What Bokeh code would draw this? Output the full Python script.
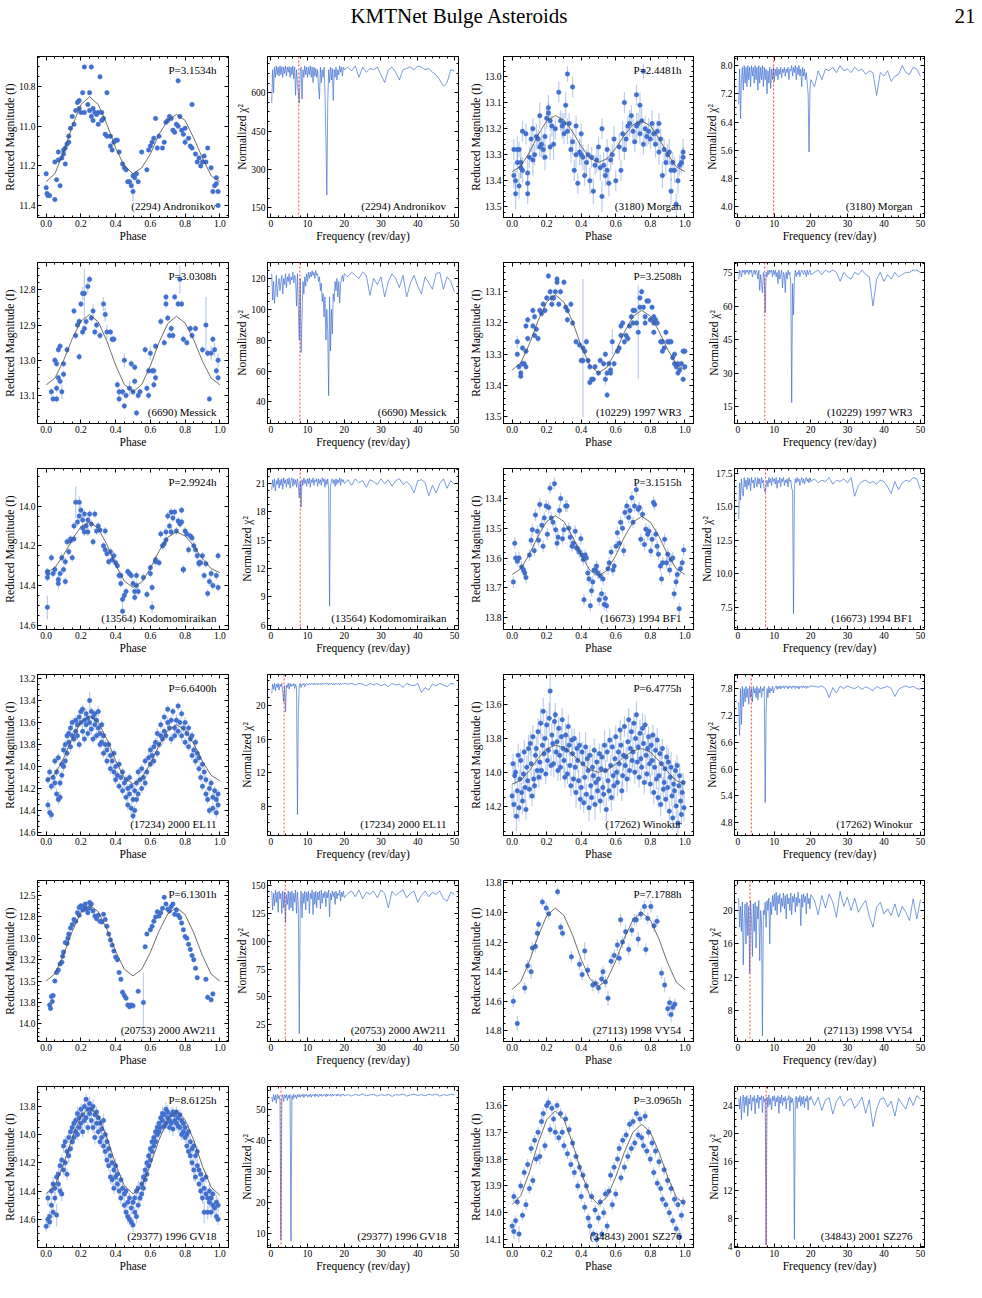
import numpy as np
from bokeh.plotting import figure
from bokeh.models import (Range1d, LinearAxis, FixedTicker, Label, Span, PrintfTickFormatter,
                          CustomJSTickFormatter)
from bokeh.layouts import gridplot, column
from bokeh.embed import file_html
from bokeh.resources import INLINE

SERIF = "Liberation Serif"
BLUE = "#3f6fcf"

# ---------------- light curves: (phase, reduced magnitude, error in 0.01 mag) ----------------
LC_2294 = [(0.00,11.24,1),(0.00,11.31,1),(0.005,11.34,1),(0.01,11.35,1),(0.02,11.35,1),(0.05,11.37,1),(0.06,11.27,1),(0.05,11.18,1),(0.07,11.17,1),(0.08,11.30,1),
 (0.07,11.13,1),(0.09,11.16,1),(0.10,11.12,1),(0.11,11.11,1),(0.10,11.14,1),(0.11,11.19,1),(0.12,11.09,1),(0.13,11.08,1),(0.13,11.05,1),(0.14,11.01,1),
 (0.15,10.95,1),(0.16,10.99,1),(0.17,10.92,1),(0.18,10.88,1),(0.19,10.87,1),(0.19,10.91,1),(0.20,10.93,1),(0.21,10.83,1),(0.22,10.93,1),(0.22,10.70,1),
 (0.24,10.89,1),(0.25,10.83,1),(0.26,10.70,1),(0.25,10.92,1),(0.26,10.95,2),(0.27,10.91,1),(0.27,10.97,1),(0.28,10.93,1),(0.29,10.94,1),(0.30,10.93,1),
 (0.30,10.99,1),(0.31,10.75,1),(0.32,10.93,1),(0.32,10.97,1),(0.33,10.96,1),(0.34,11.04,1),(0.35,10.83,1),(0.35,11.05,1),(0.37,11.05,1),(0.37,11.10,2),
 (0.38,11.12,1),(0.39,11.08,1),(0.40,11.07,1),(0.41,11.07,1),(0.42,11.13,1),(0.44,11.19,1),(0.45,11.21,1),(0.46,11.22,1),(0.47,11.28,1),(0.48,11.28,1),
 (0.49,11.30,1),(0.50,11.25,1),(0.50,11.33,5),(0.51,11.26,1),(0.52,11.24,1),(0.53,11.28,1),(0.55,11.13,1),(0.58,11.22,1),(0.59,11.12,1),(0.60,11.10,1),
 (0.61,11.08,1),(0.62,11.06,1),(0.63,10.96,1),(0.64,11.11,1),(0.65,11.05,1),(0.67,11.11,1),(0.68,11.08,1),(0.69,10.98,1),(0.70,10.97,1),(0.71,10.95,1),
 (0.72,10.96,1),(0.73,11.02,1),(0.74,11.03,1),(0.75,10.99,1),(0.76,10.77,1),(0.76,11.00,1),(0.77,10.95,1),(0.78,11.02,1),(0.79,11.04,1),(0.80,11.01,1),
 (0.80,11.08,2),(0.82,11.06,1),(0.83,11.10,1),(0.84,11.11,1),(0.84,10.89,1),(0.86,11.14,1),(0.87,11.18,1),(0.88,11.16,1),(0.89,11.20,1),(0.90,11.18,1),
 (0.91,11.15,1),(0.92,11.18,1),(0.93,11.11,1),(0.95,11.21,1),(0.96,11.33,1),(0.97,11.30,1),(0.98,11.29,1),(0.98,11.26,1),(0.99,11.33,1),(0.99,11.40,1)]

LC_3180 = [(0.01,13.28,4),(0.01,13.38,5),(0.02,13.45,6),(0.02,13.40,4),(0.03,13.28,5),(0.03,13.33,4),(0.04,13.42,5),(0.04,13.28,3),(0.05,13.35,4),(0.05,13.33,6),
 (0.06,13.21,4),(0.06,13.36,5),(0.08,13.22,4),(0.09,13.37,5),(0.09,13.45,4),(0.09,13.41,3),(0.10,13.31,4),(0.11,13.24,5),(0.12,13.20,4),(0.12,13.32,6),
 (0.13,13.30,4),(0.14,13.23,5),(0.15,13.24,4),(0.16,13.15,5),(0.16,13.27,4),(0.17,13.26,5),(0.18,13.28,4),(0.19,13.23,4),(0.19,13.31,5),(0.20,13.16,4),
 (0.21,13.12,5),(0.21,13.14,4),(0.22,13.17,4),(0.22,13.27,5),(0.23,13.19,4),(0.24,13.26,6),(0.25,13.20,4),(0.27,13.06,4),(0.28,13.17,4),(0.29,13.19,5),
 (0.30,13.18,4),(0.30,13.22,4),(0.31,13.11,5),(0.32,12.99,3),(0.32,13.21,5),(0.33,13.18,4),(0.34,13.28,5),(0.35,13.04,4),(0.35,13.25,5),(0.36,13.36,4),
 (0.37,13.19,4),(0.37,13.30,5),(0.38,13.41,4),(0.39,13.29,5),(0.40,13.22,4),(0.40,13.30,4),(0.41,13.31,5),(0.42,13.38,4),(0.43,13.33,5),(0.44,13.30,4),
 (0.45,13.40,5),(0.46,13.31,4),(0.47,13.44,5),(0.48,13.34,4),(0.49,13.32,5),(0.50,13.27,4),(0.51,13.35,5),(0.52,13.46,6),(0.52,13.20,4),(0.53,13.34,5),
 (0.54,13.38,4),(0.55,13.36,5),(0.55,13.28,4),(0.56,13.41,5),(0.57,13.32,4),(0.58,13.30,4),(0.59,13.24,5),(0.60,13.40,4),(0.62,13.27,5),(0.63,13.36,4),
 (0.64,13.22,5),(0.65,13.28,4),(0.65,13.10,4),(0.66,13.24,5),(0.67,13.19,4),(0.68,13.18,5),(0.69,13.15,4),(0.70,13.21,5),(0.71,13.25,4),(0.72,13.07,4),
 (0.72,13.19,5),(0.73,13.18,4),(0.74,13.11,5),(0.74,13.22,4),(0.75,13.17,5),(0.76,12.98,3),(0.76,13.26,4),(0.77,13.20,5),(0.78,13.23,4),(0.79,13.21,5),
 (0.80,13.24,4),(0.81,13.18,5),(0.82,13.22,4),(0.83,13.26,5),(0.84,13.21,4),(0.85,13.18,4),(0.85,13.29,5),(0.86,13.24,4),(0.87,13.38,5),(0.88,13.28,4),
 (0.89,13.33,5),(0.90,13.30,4),(0.91,13.29,5),(0.92,13.36,4),(0.92,13.44,5),(0.93,13.33,4),(0.94,13.36,5),(0.95,13.49,4),(0.96,13.40,5),(0.97,13.34,4),
 (0.98,13.33,4),(0.99,13.29,5),(0.99,13.31,4)]

LC_6690 = [(0.03,13.09,1),(0.04,13.11,1),(0.05,13.00,1),(0.06,13.01,1),(0.06,13.08,1),(0.06,13.11,1),(0.07,13.05,1),(0.07,12.97,1),(0.08,12.96,1),(0.08,13.06,1),
 (0.09,13.09,2),(0.10,13.04,1),(0.10,13.01,1),(0.12,12.97,1),(0.16,12.86,1),(0.17,12.93,1),(0.18,12.90,1),(0.19,12.89,1),(0.19,12.99,1),(0.20,12.84,1),
 (0.21,12.81,2),(0.21,12.92,1),(0.22,12.91,1),(0.22,12.81,7),(0.23,12.89,1),(0.24,12.79,2),(0.25,12.77,1),(0.26,12.88,1),(0.27,12.86,2),(0.28,12.92,1),
 (0.29,12.90,1),(0.31,12.93,1),(0.33,12.84,2),(0.34,12.87,2),(0.35,12.92,2),(0.37,12.92,1),(0.38,12.94,1),(0.39,12.94,1),(0.41,13.07,1),(0.42,13.09,1),
 (0.42,13.11,1),(0.44,13.09,1),(0.45,13.13,1),(0.45,13.00,2),(0.46,13.10,1),(0.48,13.08,2),(0.49,13.01,1),(0.50,13.09,1),(0.51,13.06,1),(0.51,13.02,1),
 (0.52,13.15,1),(0.53,13.10,1),(0.54,13.09,1),(0.57,12.97,1),(0.58,13.08,1),(0.59,13.03,1),(0.59,13.10,1),(0.60,12.98,2),(0.61,13.03,1),(0.62,13.03,1),
 (0.62,13.07,1),(0.63,13.05,1),(0.63,12.96,1),(0.66,12.89,1),(0.68,12.95,1),(0.69,12.84,1),(0.69,12.82,1),(0.70,12.88,1),(0.71,12.93,1),(0.72,12.91,1),
 (0.73,12.93,1),(0.74,12.82,1),(0.76,12.84,1),(0.77,12.77,4),(0.78,12.84,1),(0.79,12.94,1),(0.81,12.95,1),(0.83,12.91,1),(0.84,12.93,1),(0.86,12.91,1),
 (0.90,12.97,1),(0.92,12.90,8),(0.93,12.98,1),(0.94,13.11,1),(0.95,12.98,2),(0.96,12.94,1),(0.97,12.97,2),(0.98,13.03,1),(0.99,13.00,2),(0.99,13.05,1)]

LC_10229 = [(0.03,13.26,2),(0.03,13.30,1),(0.04,13.34,1),(0.05,13.36,1),(0.05,13.37,1),(0.06,13.33,1),(0.06,13.28,1),(0.07,13.33,1),(0.08,13.34,1),(0.08,13.29,1),
 (0.08,13.21,1),(0.09,13.19,1),(0.09,13.25,1),(0.12,13.16,1),(0.12,13.21,1),(0.13,13.24,1),(0.13,13.18,1),(0.14,13.22,1),(0.15,13.25,1),(0.16,13.16,1),
 (0.17,13.17,1),(0.18,13.14,1),(0.19,13.16,1),(0.20,13.12,1),(0.21,13.05,1),(0.22,13.10,1),(0.23,13.14,1),(0.23,13.12,1),(0.24,13.12,1),(0.25,13.10,1),
 (0.26,13.07,1),(0.26,13.06,1),(0.27,13.14,1),(0.28,13.10,1),(0.30,13.07,1),(0.31,13.15,1),(0.32,13.16,1),(0.32,13.19,1),(0.34,13.14,1),(0.35,13.20,1),
 (0.37,13.26,1),(0.39,13.27,1),(0.40,13.32,1),(0.41,13.32,1),(0.41,13.28,22),(0.42,13.29,1),(0.43,13.26,1),(0.44,13.32,1),(0.45,13.34,1),(0.45,13.39,1),
 (0.46,13.38,1),(0.47,13.38,1),(0.48,13.34,1),(0.50,13.36,1),(0.51,13.32,1),(0.53,13.33,1),(0.54,13.38,2),(0.54,13.30,1),(0.55,13.43,1),(0.55,13.36,1),
 (0.56,13.33,1),(0.57,13.36,1),(0.57,13.35,1),(0.58,13.26,4),(0.59,13.33,1),(0.61,13.29,1),(0.62,13.28,1),(0.63,13.24,1),(0.63,13.21,1),(0.64,13.20,1),
 (0.65,13.26,1),(0.66,13.24,1),(0.67,13.25,1),(0.68,13.21,1),(0.69,13.18,1),(0.70,13.20,1),(0.70,13.16,1),(0.71,13.16,1),(0.72,13.20,1),(0.73,13.23,15),
 (0.74,13.12,1),(0.74,13.15,1),(0.75,13.10,1),(0.76,13.15,1),(0.77,13.18,1),(0.77,13.20,1),(0.78,13.13,1),(0.79,13.13,1),(0.80,13.19,1),(0.81,13.15,1),
 (0.82,13.18,1),(0.82,13.20,1),(0.82,13.23,1),(0.83,13.19,1),(0.84,13.20,1),(0.86,13.26,1),(0.87,13.29,1),(0.87,13.26,1),(0.88,13.28,1),(0.89,13.23,1),
 (0.90,13.26,1),(0.91,13.26,1),(0.92,13.26,1),(0.93,13.31,1),(0.94,13.33,1),(0.94,13.30,1),(0.95,13.34,1),(0.96,13.36,1),(0.96,13.33,1),(0.97,13.35,1),
 (0.98,13.33,1),(0.99,13.38,1),(0.99,13.29,1),(1.00,13.34,1),(1.00,13.29,1)]

LC_13564 = [(0.007,14.33,2),(0.007,14.36,2),(0.007,14.51,6),(0.01,14.34,2),(0.03,14.26,2),(0.04,14.34,2),(0.05,14.32,2),(0.07,14.37,2),(0.07,14.39,3),(0.08,14.34,2),
 (0.09,14.26,2),(0.10,14.32,2),(0.11,14.28,2),(0.11,14.38,2),(0.12,14.18,2),(0.13,14.23,2),(0.14,14.175,2),(0.14,14.165,2),(0.15,14.26,2),(0.16,14.10,2),
 (0.16,14.165,2),(0.17,13.98,8),(0.18,14.08,2),(0.19,13.98,3),(0.19,14.05,2),(0.20,14.02,4),(0.21,14.11,2),(0.21,14.07,2),(0.22,14.13,2),(0.22,14.04,2),
 (0.23,14.10,2),(0.24,14.07,2),(0.24,14.13,2),(0.25,14.04,2),(0.26,14.09,2),(0.27,14.18,2),(0.28,14.04,2),(0.29,14.125,2),(0.30,14.10,2),(0.31,14.12,2),
 (0.33,14.20,2),(0.34,14.125,2),(0.34,14.22,2),(0.35,14.24,2),(0.36,14.28,2),(0.37,14.23,2),(0.38,14.27,2),(0.39,14.25,2),(0.40,14.285,2),(0.41,14.30,2),
 (0.42,14.35,2),(0.43,14.35,2),(0.43,14.39,2),(0.44,14.47,3),(0.44,14.53,3),(0.45,14.45,2),(0.46,14.43,2),(0.47,14.33,2),(0.48,14.34,2),(0.49,14.35,2),
 (0.50,14.39,2),(0.51,14.43,2),(0.51,14.46,2),(0.52,14.35,2),(0.52,14.40,2),(0.53,14.43,2),(0.56,14.36,2),(0.58,14.445,2),(0.60,14.34,2),(0.60,14.31,2),
 (0.61,14.51,3),(0.61,14.41,2),(0.63,14.28,2),(0.63,14.27,2),(0.65,14.285,2),(0.66,14.14,2),(0.67,14.20,2),(0.68,14.19,2),(0.69,14.17,2),(0.69,14.13,2),
 (0.70,14.05,2),(0.71,14.10,2),(0.72,14.13,2),(0.72,14.03,2),(0.73,14.06,2),(0.74,14.03,2),(0.75,14.125,2),(0.76,14.075,2),(0.77,14.09,2),(0.78,14.02,2),
 (0.78,14.08,2),(0.79,14.32,2),(0.79,14.32,2),(0.80,14.125,2),(0.81,14.14,2),(0.82,14.22,2),(0.83,14.15,2),(0.84,14.16,2),(0.85,14.20,2),(0.86,14.22,2),
 (0.87,14.25,2),(0.88,14.285,2),(0.88,14.29,2),(0.89,14.285,2),(0.90,14.25,2),(0.91,14.35,2),(0.92,14.29,2),(0.93,14.44,2),(0.94,14.38,2),(0.95,14.34,2),
 (0.96,14.40,2),(0.98,14.35,2),(0.99,14.41,2),(0.99,14.25,2)]

LC_16673 = [(0.007,13.68,2),(0.015,13.55,2),(0.02,13.60,2),(0.03,13.61,2),(0.04,13.60,2),(0.055,13.63,2),(0.066,13.64,2),(0.073,13.65,2),(0.08,13.665,2),(0.10,13.59,2),
 (0.11,13.54,2),(0.117,13.505,2),(0.128,13.575,2),(0.135,13.455,2),(0.146,13.51,2),(0.153,13.54,2),(0.16,13.42,2),(0.172,13.49,2),(0.179,13.56,2),(0.186,13.465,2),
 (0.197,13.425,2),(0.204,13.52,2),(0.212,13.43,2),(0.219,13.365,2),(0.226,13.465,2),(0.237,13.48,2),(0.245,13.35,2),(0.252,13.505,2),(0.26,13.55,2),(0.266,13.53,2),
 (0.274,13.44,2),(0.281,13.40,2),(0.292,13.535,2),(0.299,13.505,2),(0.31,13.425,2),(0.318,13.425,2),(0.328,13.50,2),(0.336,13.53,2),(0.347,13.56,2),(0.354,13.55,2),
 (0.365,13.51,2),(0.372,13.565,2),(0.38,13.57,2),(0.39,13.58,2),(0.398,13.535,2),(0.405,13.59,2),(0.412,13.605,2),(0.416,13.74,2),(0.423,13.59,2),(0.43,13.60,2),
 (0.438,13.65,2),(0.445,13.67,2),(0.453,13.76,2),(0.46,13.71,2),(0.467,13.68,2),(0.474,13.64,2),(0.482,13.64,2),(0.489,13.627,2),(0.496,13.65,2),(0.504,13.74,2),
 (0.511,13.66,2),(0.518,13.72,2),(0.526,13.67,2),(0.533,13.756,2),(0.54,13.735,2),(0.547,13.76,2),(0.555,13.636,2),(0.562,13.616,2),(0.573,13.58,2),(0.584,13.64,2),
 (0.591,13.627,2),(0.602,13.56,2),(0.609,13.515,2),(0.62,13.55,2),(0.628,13.48,2),(0.639,13.50,2),(0.646,13.575,2),(0.653,13.447,2),(0.664,13.425,2),(0.675,13.464,2),
 (0.682,13.44,2),(0.693,13.397,2),(0.70,13.48,2),(0.708,13.425,2),(0.719,13.37,2),(0.73,13.436,2),(0.737,13.43,2),(0.745,13.537,2),(0.755,13.453,2),(0.766,13.554,2),
 (0.774,13.503,2),(0.785,13.52,2),(0.792,13.51,2),(0.803,13.576,2),(0.81,13.537,2),(0.818,13.413,2),(0.825,13.42,2),(0.832,13.52,2),(0.839,13.56,2),(0.847,13.587,2),
 (0.858,13.627,2),(0.865,13.67,2),(0.872,13.616,2),(0.883,13.537,2),(0.894,13.616,2),(0.901,13.587,2),(0.912,13.64,2),(0.92,13.605,2),(0.93,13.60,2),(0.938,13.72,2),
 (0.949,13.68,2),(0.956,13.655,2),(0.967,13.77,2),(0.974,13.636,2),(0.985,13.616,2),(0.993,13.573,2)]

LC_17234 = [(0.01,14.35,5),(0.01,14.12,4),(0.02,14.42,5),(0.02,14.05,4),(0.03,14.44,5),(0.03,14.18,4),(0.04,14.10,4),(0.05,14.15,5),(0.05,13.95,4),(0.06,14.25,5),
 (0.06,14.05,4),(0.07,14.30,5),(0.07,13.92,4),(0.08,14.15,4),(0.08,14.28,5),(0.09,13.98,4),(0.09,14.08,4),(0.10,13.85,4),(0.10,14.00,5),(0.11,13.80,4),
 (0.11,13.95,4),(0.12,13.72,4),(0.12,13.88,5),(0.13,13.78,4),(0.13,13.70,4),(0.14,13.65,4),(0.14,13.82,5),(0.15,13.72,4),(0.15,13.60,4),(0.16,13.75,4),
 (0.17,13.68,5),(0.17,13.58,4),(0.18,13.72,4),(0.18,13.62,4),(0.19,13.55,5),(0.19,13.80,4),(0.20,13.60,4),(0.20,13.50,4),(0.21,13.68,5),(0.21,13.48,4),
 (0.22,13.58,4),(0.22,13.75,4),(0.23,13.52,5),(0.23,13.62,4),(0.24,13.56,4),(0.24,13.70,4),(0.25,13.40,8),(0.25,13.60,4),(0.26,13.50,4),(0.26,13.66,5),
 (0.27,13.55,4),(0.27,13.75,4),(0.28,13.52,4),(0.28,13.62,5),(0.29,13.58,4),(0.29,13.72,4),(0.30,13.65,4),(0.30,13.50,5),(0.31,13.70,4),(0.31,13.80,4),
 (0.32,13.62,4),(0.32,13.78,5),(0.33,13.72,4),(0.33,13.88,4),(0.34,13.80,4),(0.35,13.85,5),(0.35,13.95,4),(0.36,13.80,4),(0.37,13.90,4),(0.37,14.02,5),
 (0.38,13.95,4),(0.39,14.05,4),(0.39,13.88,4),(0.40,14.00,5),(0.40,14.12,4),(0.41,14.08,4),(0.42,14.18,4),(0.42,13.98,5),(0.43,14.10,4),(0.44,14.22,4),
 (0.44,14.05,4),(0.45,14.15,5),(0.46,14.28,4),(0.46,14.12,4),(0.47,14.20,4),(0.47,14.35,5),(0.48,14.25,4),(0.48,14.10,4),(0.49,14.38,5),(0.49,14.18,4),
 (0.50,14.30,4),(0.50,14.45,6),(0.51,14.22,4),(0.51,14.40,5),(0.52,14.15,4),(0.52,14.30,4),(0.53,14.05,4),(0.53,14.25,5),(0.54,14.12,4),(0.55,14.20,4),
 (0.55,14.02,4),(0.56,14.10,5),(0.57,14.15,4),(0.57,13.95,4),(0.58,14.05,4),(0.59,13.92,5),(0.60,13.98,4),(0.60,13.85,4),(0.61,13.90,4),(0.62,13.82,5),
 (0.62,13.95,4),(0.63,13.78,4),(0.64,13.88,4),(0.64,13.70,5),(0.65,13.80,4),(0.66,13.72,4),(0.66,13.62,4),(0.67,13.75,5),(0.68,13.68,4),(0.68,13.55,4),
 (0.69,13.72,4),(0.70,13.60,5),(0.70,13.48,4),(0.71,13.65,4),(0.72,13.58,4),(0.72,13.75,5),(0.73,13.50,4),(0.74,13.65,4),(0.74,13.72,4),(0.75,13.58,5),
 (0.76,13.45,4),(0.76,13.68,4),(0.77,13.60,4),(0.78,13.72,5),(0.78,13.52,4),(0.79,13.65,4),(0.80,13.78,4),(0.80,13.60,5),(0.81,13.70,4),(0.82,13.82,4),
 (0.82,13.65,4),(0.83,13.75,5),(0.84,13.90,4),(0.84,13.72,4),(0.85,13.85,4),(0.86,13.95,5),(0.86,13.78,4),(0.87,13.88,4),(0.88,14.02,4),(0.88,13.92,5),
 (0.89,14.10,4),(0.90,13.98,4),(0.90,14.18,4),(0.91,14.05,5),(0.92,14.25,4),(0.92,14.12,4),(0.93,14.30,4),(0.94,14.20,5),(0.94,14.40,4),(0.95,14.15,4),
 (0.96,14.28,4),(0.96,14.38,5),(0.97,14.22,4),(0.98,14.30,4),(0.98,14.42,5),(0.99,14.25,4),(0.99,14.35,4)]

LC_17262 = [(0.000,14.14,7),(0.005,13.95,6),(0.010,14.19,8),(0.015,14.02,6),(0.020,14.00,7),(0.025,14.26,9),(0.030,14.11,6),(0.035,13.90,7),(0.040,14.21,8),(0.045,14.04,6),
 (0.050,13.93,7),(0.055,14.12,6),(0.060,14.17,8),(0.065,14.01,6),(0.070,13.88,7),(0.075,14.09,9),(0.080,14.22,6),(0.085,13.97,7),(0.090,14.05,6),(0.095,13.86,8),
 (0.100,14.10,6),(0.105,13.83,7),(0.110,13.95,9),(0.115,14.14,6),(0.120,13.79,7),(0.125,14.04,6),(0.130,14.08,8),(0.135,13.90,6),(0.140,13.86,7),(0.145,13.99,6),
 (0.150,13.76,8),(0.155,14.03,6),(0.160,13.94,7),(0.165,13.71,9),(0.170,13.99,6),(0.175,13.84,7),(0.180,13.64,8),(0.185,13.89,6),(0.190,13.80,7),(0.195,14.01,6),
 (0.200,13.72,8),(0.205,13.93,6),(0.210,13.87,7),(0.215,13.68,9),(0.220,13.52,14),(0.225,13.96,6),(0.230,13.78,7),(0.235,13.83,6),(0.240,13.95,8),(0.245,13.70,6),
 (0.250,13.66,7),(0.255,13.88,6),(0.260,13.82,9),(0.265,13.99,6),(0.270,13.74,7),(0.275,13.90,6),(0.280,13.97,8),(0.285,13.79,6),(0.290,13.69,7),(0.295,13.86,6),
 (0.300,13.93,8),(0.305,14.03,6),(0.310,13.78,7),(0.315,13.87,9),(0.320,14.01,6),(0.325,13.73,7),(0.330,13.84,6),(0.335,13.96,8),(0.340,14.08,6),(0.345,13.81,7),
 (0.350,13.89,6),(0.355,14.04,8),(0.360,13.80,6),(0.365,13.97,7),(0.370,14.12,9),(0.375,13.86,6),(0.380,13.93,7),(0.385,14.05,6),(0.390,13.84,8),(0.395,14.16,6),
 (0.400,14.09,7),(0.405,13.88,6),(0.410,13.95,8),(0.415,14.18,6),(0.420,14.03,7),(0.425,13.85,9),(0.430,14.13,6),(0.435,13.92,7),(0.440,13.99,6),(0.445,14.21,8),
 (0.450,13.90,6),(0.455,14.08,7),(0.460,14.15,6),(0.465,13.97,8),(0.470,14.02,6),(0.475,13.87,7),(0.480,14.19,9),(0.485,14.06,6),(0.490,13.94,7),(0.495,14.11,6),
 (0.500,14.04,8),(0.505,13.89,6),(0.510,14.17,7),(0.515,13.98,6),(0.520,13.91,8),(0.525,14.09,6),(0.530,14.13,7),(0.535,13.84,9),(0.540,13.99,6),(0.545,14.22,7),
 (0.550,13.88,6),(0.555,14.05,8),(0.560,14.11,6),(0.565,13.81,7),(0.570,13.96,6),(0.575,14.15,8),(0.580,13.85,6),(0.585,14.02,7),(0.590,14.08,9),(0.595,13.92,6),
 (0.600,13.79,7),(0.605,14.00,6),(0.610,14.06,8),(0.615,13.88,6),(0.620,13.95,7),(0.625,13.75,6),(0.630,13.84,8),(0.635,14.11,6),(0.640,14.02,7),(0.645,13.90,9),
 (0.650,13.73,6),(0.655,13.96,7),(0.660,13.91,6),(0.665,14.04,8),(0.670,13.82,6),(0.675,13.69,7),(0.680,13.99,6),(0.685,13.86,8),(0.690,13.76,6),(0.695,13.93,7),
 (0.700,13.88,9),(0.705,13.71,6),(0.710,14.00,7),(0.715,13.80,6),(0.720,13.66,8),(0.725,13.94,6),(0.730,13.85,7),(0.735,14.03,6),(0.740,13.77,8),(0.745,13.92,6),
 (0.750,13.97,7),(0.755,13.74,9),(0.760,13.83,6),(0.765,14.06,7),(0.770,13.72,6),(0.775,13.90,8),(0.780,14.01,6),(0.785,13.86,7),(0.790,13.79,6),(0.795,13.95,8),
 (0.800,14.07,6),(0.805,13.84,7),(0.810,13.93,9),(0.815,13.78,6),(0.820,14.12,7),(0.825,13.97,6),(0.830,13.87,8),(0.835,14.04,6),(0.840,13.81,7),(0.845,14.15,6),
 (0.850,14.02,8),(0.855,13.89,6),(0.860,14.19,7),(0.865,13.95,9),(0.870,13.86,6),(0.875,14.10,7),(0.880,14.06,6),(0.885,13.98,8),(0.890,14.16,6),(0.895,13.91,7),
 (0.900,14.09,6),(0.905,13.94,8),(0.910,14.23,6),(0.915,14.03,7),(0.920,13.97,9),(0.925,14.14,6),(0.930,14.27,7),(0.935,14.07,6),(0.940,14.11,8),(0.945,13.99,6),
 (0.950,14.20,7),(0.955,13.96,6),(0.960,14.30,8),(0.965,14.08,6),(0.970,14.02,7),(0.975,14.17,9),(0.980,14.25,6),(0.985,14.12,7),(0.990,14.06,6),(0.995,14.21,8)]

LC_20753 = [(0.02,13.78,2),(0.025,13.82,2),(0.03,13.68,2),(0.035,13.74,2),(0.04,13.67,2),(0.05,13.50,2),(0.06,13.40,2),(0.07,13.37,2),(0.08,13.30,2),(0.09,13.28,2),
 (0.095,13.21,2),(0.10,13.16,2),(0.11,13.05,2),(0.12,13.06,2),(0.125,13.00,2),(0.13,12.95,2),(0.14,12.88,2),(0.15,12.84,2),(0.16,12.78,2),(0.17,12.80,2),
 (0.18,12.70,2),(0.19,12.73,2),(0.19,12.64,2),(0.20,12.62,2),(0.21,12.67,2),(0.22,12.63,2),(0.225,12.60,2),(0.23,12.66,2),(0.24,12.70,2),(0.25,12.65,2),
 (0.25,12.58,2),(0.26,12.60,2),(0.27,12.68,2),(0.28,12.74,2),(0.29,12.77,2),(0.30,12.73,2),(0.31,12.80,2),(0.32,12.81,2),(0.33,12.72,2),(0.34,12.78,2),
 (0.35,12.86,2),(0.36,12.95,2),(0.37,13.02,2),(0.38,13.08,2),(0.39,13.15,2),(0.40,13.22,2),(0.41,13.25,2),(0.42,13.40,2),(0.43,13.48,2),(0.44,13.63,3),
 (0.45,13.67,2),(0.46,13.70,2),(0.47,13.78,2),(0.48,13.80,3),(0.49,13.78,2),(0.50,13.79,3),(0.53,13.62,2),(0.56,13.75,35),(0.57,13.10,2),(0.58,12.95,2),
 (0.60,12.90,2),(0.61,12.86,2),(0.62,12.80,2),(0.63,12.75,2),(0.64,12.69,2),(0.65,12.74,2),(0.66,12.70,2),(0.67,12.65,2),(0.68,12.52,2),(0.69,12.60,2),
 (0.70,12.66,2),(0.71,12.68,2),(0.72,12.63,2),(0.73,12.60,2),(0.74,12.72,2),(0.75,12.67,2),(0.76,12.73,2),(0.77,12.76,2),(0.78,12.82,2),(0.79,12.90,2),
 (0.80,12.98,2),(0.81,13.00,2),(0.82,13.07,2),(0.83,13.13,2),(0.84,13.20,2),(0.85,13.25,2),(0.86,13.35,2),(0.87,13.46,2),(0.92,13.48,2),(0.93,13.69,3),
 (0.95,13.72,3),(0.96,13.65,3)]

LC_27113 = [(0.007,14.60,4),(0.03,14.75,5),(0.073,14.51,4),(0.09,14.36,4),(0.11,14.40,5),(0.117,14.24,4),(0.135,14.23,4),(0.146,14.14,3),(0.153,14.08,3),(0.175,13.93,3),
 (0.197,13.97,4),(0.212,14.01,4),(0.263,13.86,3),(0.281,14.10,3),(0.292,14.14,3),(0.343,14.30,4),(0.39,14.35,4),(0.405,14.42,4),(0.42,14.26,6),(0.438,14.39,4),
 (0.467,14.49,4),(0.482,14.48,3),(0.50,14.51,4),(0.518,14.45,4),(0.526,14.40,4),(0.54,14.47,4),(0.555,14.58,5),(0.573,14.33,4),(0.591,14.29,4),(0.609,14.22,4),
 (0.62,14.31,4),(0.628,14.05,4),(0.639,14.20,4),(0.657,14.13,5),(0.675,14.25,4),(0.693,14.12,4),(0.708,14.05,4),(0.719,14.05,4),(0.73,14.18,5),(0.745,14.01,4),
 (0.766,13.96,4),(0.774,14.25,4),(0.785,14.04,4),(0.803,13.96,4),(0.821,14.09,4),(0.839,14.06,4),(0.865,14.41,4),(0.883,14.49,5),(0.901,14.65,5),(0.912,14.61,4),
 (0.92,14.69,5),(0.93,14.64,4),(0.942,14.62,4)]

LC_29377 = [(0.00,14.65,4),(0.01,14.60,4),(0.01,14.45,5),(0.02,14.58,4),(0.02,14.62,4),(0.03,14.50,5),(0.03,14.40,4),(0.04,14.55,4),(0.04,14.35,5),(0.05,14.45,4),
 (0.05,14.38,4),(0.06,14.57,8),(0.06,14.30,4),(0.07,14.35,4),(0.07,14.28,5),(0.08,14.40,4),(0.08,14.22,4),(0.09,14.42,5),(0.09,14.18,4),(0.10,14.25,4),
 (0.10,14.08,5),(0.11,14.20,4),(0.11,14.05,4),(0.12,14.12,5),(0.12,14.28,4),(0.13,14.02,4),(0.13,14.15,5),(0.14,13.98,4),(0.14,14.10,4),(0.15,13.95,5),
 (0.15,14.05,4),(0.16,13.92,4),(0.16,14.02,5),(0.17,13.90,4),(0.17,13.98,4),(0.18,13.85,5),(0.18,14.00,4),(0.19,13.88,4),(0.19,13.95,5),(0.20,13.82,4),
 (0.20,13.92,4),(0.21,13.86,5),(0.21,13.98,4),(0.22,13.80,4),(0.22,13.90,5),(0.23,13.75,4),(0.23,13.88,4),(0.24,13.82,5),(0.24,13.95,4),(0.25,13.85,4),
 (0.25,13.78,5),(0.26,13.90,4),(0.26,13.82,4),(0.27,13.80,5),(0.27,13.95,4),(0.28,13.86,4),(0.28,14.02,5),(0.29,13.92,4),(0.29,13.84,4),(0.30,13.98,5),
 (0.30,13.88,4),(0.31,14.05,4),(0.31,13.92,5),(0.32,13.96,4),(0.32,14.02,4),(0.33,13.90,5),(0.33,14.08,4),(0.34,14.00,4),(0.34,14.12,5),(0.35,14.05,4),
 (0.35,14.18,4),(0.36,14.10,5),(0.36,14.22,4),(0.37,14.15,4),(0.37,14.30,5),(0.38,14.20,4),(0.38,14.32,4),(0.39,14.25,5),(0.39,14.38,4),(0.40,14.30,4),
 (0.40,14.22,5),(0.41,14.35,4),(0.41,14.28,4),(0.42,14.40,5),(0.43,14.32,4),(0.43,14.45,4),(0.44,14.38,5),(0.45,14.50,4),(0.45,14.42,4),(0.46,14.55,5),
 (0.46,14.40,4),(0.47,14.48,4),(0.47,14.58,5),(0.48,14.45,4),(0.48,14.60,4),(0.49,14.52,5),(0.49,14.62,4),(0.50,14.48,4),(0.50,14.64,5),(0.51,14.55,4),
 (0.51,14.45,4),(0.52,14.58,5),(0.52,14.40,4),(0.53,14.50,4),(0.53,14.38,5),(0.54,14.45,4),(0.55,14.35,4),(0.55,14.42,5),(0.56,14.30,4),(0.56,14.38,4),
 (0.57,14.25,5),(0.57,14.32,4),(0.58,14.20,4),(0.58,14.28,5),(0.59,14.15,4),(0.59,14.22,4),(0.60,14.10,5),(0.60,14.18,4),(0.61,14.05,4),(0.61,14.12,5),
 (0.62,14.02,4),(0.62,14.08,4),(0.63,13.98,5),(0.63,14.05,4),(0.64,13.95,4),(0.64,14.00,5),(0.65,13.92,4),(0.65,13.98,4),(0.66,13.88,5),(0.66,13.95,4),
 (0.67,13.90,4),(0.67,13.85,5),(0.68,13.94,4),(0.68,13.86,4),(0.69,13.82,5),(0.69,13.92,4),(0.70,13.88,4),(0.70,13.84,5),(0.71,13.90,4),(0.71,13.95,4),
 (0.72,13.86,5),(0.72,13.92,4),(0.73,13.84,4),(0.73,13.96,5),(0.74,13.90,4),(0.74,13.86,4),(0.75,13.92,5),(0.75,13.84,4),(0.76,13.88,4),(0.76,13.94,5),
 (0.77,13.86,4),(0.77,13.95,4),(0.78,13.90,5),(0.78,14.00,4),(0.79,13.92,4),(0.79,13.98,5),(0.80,14.02,4),(0.80,13.95,4),(0.81,14.08,5),(0.81,14.00,4),
 (0.82,14.12,4),(0.82,13.98,5),(0.83,14.05,4),(0.83,14.15,4),(0.84,14.10,5),(0.84,14.20,4),(0.85,14.08,4),(0.85,14.25,8),(0.86,14.15,4),(0.86,14.30,4),
 (0.87,14.22,5),(0.87,14.12,4),(0.88,14.35,4),(0.88,14.25,5),(0.89,14.28,4),(0.89,14.40,4),(0.90,14.32,5),(0.90,14.45,4),(0.91,14.38,4),(0.91,14.55,8),
 (0.92,14.42,4),(0.92,14.30,4),(0.93,14.55,5),(0.93,14.45,4),(0.94,14.48,4),(0.94,14.40,5),(0.95,14.55,4),(0.95,14.45,4),(0.96,14.50,5),(0.96,14.42,4),
 (0.97,14.52,4),(0.98,14.48,5),(0.98,14.58,4),(0.99,14.60,4),(0.99,14.50,5)]

LC_34843 = [(0.00,14.05,2),(0.01,13.94,2),(0.01,14.07,3),(0.02,14.03,2),(0.03,13.96,2),(0.04,14.08,3),(0.05,13.90,2),(0.06,14.01,2),(0.07,13.85,2),(0.08,13.97,2),
 (0.09,13.82,2),(0.10,13.91,2),(0.11,13.76,2),(0.12,13.88,2),(0.13,13.73,2),(0.14,13.80,2),(0.15,13.70,2),(0.16,13.79,3),(0.17,13.66,2),(0.18,13.63,2),
 (0.19,13.75,2),(0.20,13.60,2),(0.21,13.59,2),(0.22,13.69,2),(0.23,13.61,2),(0.24,13.65,2),(0.25,13.70,3),(0.26,13.60,2),(0.27,13.72,2),(0.28,13.63,2),
 (0.29,13.70,2),(0.30,13.75,2),(0.31,13.65,2),(0.32,13.78,2),(0.33,13.69,2),(0.34,13.82,2),(0.35,13.74,2),(0.36,13.85,2),(0.37,13.79,2),(0.38,13.90,2),
 (0.39,13.83,2),(0.40,13.94,2),(0.41,13.86,2),(0.42,13.98,2),(0.43,13.90,2),(0.44,14.02,2),(0.45,14.05,3),(0.46,13.94,2),(0.47,14.08,2),(0.48,13.99,2),
 (0.49,14.10,3),(0.50,14.02,2),(0.51,13.96,2),(0.52,14.08,2),(0.53,14.00,2),(0.54,13.93,2),(0.55,14.05,2),(0.56,13.92,2),(0.57,13.86,2),(0.58,13.97,2),
 (0.59,13.83,2),(0.60,13.93,2),(0.61,13.80,2),(0.62,13.76,2),(0.63,13.87,2),(0.64,13.73,2),(0.65,13.83,2),(0.66,13.71,2),(0.67,13.79,2),(0.68,13.67,2),
 (0.69,13.76,2),(0.70,13.66,2),(0.71,13.74,2),(0.72,13.63,2),(0.73,13.71,2),(0.74,13.65,2),(0.75,13.72,2),(0.76,13.75,2),(0.77,13.64,2),(0.78,13.77,2),
 (0.79,13.70,2),(0.80,13.80,2),(0.81,13.74,2),(0.82,13.85,2),(0.83,13.77,2),(0.84,13.89,2),(0.85,13.81,2),(0.86,13.91,2),(0.87,13.95,2),(0.88,13.84,2),
 (0.89,13.97,2),(0.90,13.88,2),(0.91,14.00,2),(0.92,13.91,2),(0.93,14.03,2),(0.94,13.95,2),(0.95,14.06,2),(0.96,13.97,2),(0.97,14.09,3),(0.98,14.01,2),(0.99,13.96,2)]

# ---------------- fitted double-wave model, sampled every 0.05 in phase ----------------
FIT_2294 = [11.28,11.24,11.13,11.00,10.89,10.85,10.89,10.99,11.11,11.20,11.24,11.21,11.14,11.04,10.97,10.94,10.97,11.06,11.16,11.25,11.28]
FIT_3180 = [13.365,13.344,13.291,13.224,13.170,13.15,13.167,13.212,13.268,13.313,13.33,13.315,13.275,13.225,13.185,13.17,13.189,13.237,13.298,13.346,13.365]
FIT_6690 = [13.07,13.051,13.001,12.939,12.889,12.87,12.891,12.946,13.014,13.069,13.09,13.069,13.016,12.949,12.896,12.875,12.894,12.942,13.003,13.051,13.07]
FIT_10229 = [13.35,13.327,13.267,13.193,13.133,13.11,13.134,13.196,13.274,13.336,13.36,13.341,13.291,13.229,13.179,13.16,13.178,13.226,13.284,13.332,13.35]
FIT_13564 = [14.335,14.311,14.247,14.168,14.104,14.08,14.112,14.194,14.296,14.378,14.41,14.383,14.313,14.227,14.157,14.13,14.150,14.201,14.264,14.315,14.335]
FIT_16673 = [13.655,13.636,13.587,13.526,13.477,13.458,13.477,13.528,13.590,13.641,13.66,13.641,13.591,13.529,13.479,13.46,13.479,13.527,13.588,13.636,13.655]
FIT_17234 = [14.13,14.074,13.926,13.744,13.596,13.54,13.599,13.754,13.946,14.101,14.16,14.108,13.973,13.807,13.672,13.62,13.669,13.796,13.954,14.081,14.13]
FIT_17262 = [14.07,14.048,13.991,13.919,13.862,13.84,13.855,13.895,13.945,13.985,14.00,13.987,13.952,13.908,13.873,13.86,13.880,13.933,13.997,14.050,14.07]
FIT_20753 = [13.50,13.415,13.193,12.918,12.695,12.61,12.689,12.897,13.153,13.361,13.44,13.364,13.164,12.916,12.716,12.64,12.722,12.937,13.203,13.418,13.50]
FIT_27113 = [14.52,14.467,14.330,14.160,14.023,13.97,14.021,14.153,14.317,14.449,14.50,14.452,14.327,14.173,14.048,14.00,14.050,14.180,14.340,14.470,14.52]
FIT_29377 = [14.42,14.362,14.209,14.021,13.868,13.81,13.868,14.021,14.209,14.362,14.42,14.364,14.218,14.037,13.891,13.835,13.892,14.041,14.224,14.373,14.43]
FIT_34843 = [13.97,13.937,13.849,13.741,13.653,13.62,13.653,13.741,13.849,13.937,13.97,13.941,13.866,13.774,13.699,13.67,13.699,13.774,13.866,13.941,13.97]

# ---------------- periodograms: normalized chi^2 on the frequency grid below ----------------
FREQ = list(np.arange(1, 81) * 0.25) + list(np.arange(21, 51) * 1.0)

PG_2294 = [560,690,600,700,660,705,670,700,665,705, 670,702,660,700,675,705,665,700,680,703,
 660,700,670,705,655,700,590,690,640,600, 560,680,700,575,690,660,705,670,700,660,
 700,670,705,660,700,640,700,665,695,660, 690,620,575,700,640,690,660,700,600,420,
 200,560,690,640,700,650,695,570,690,660, 700,650,690,670,705,680,700,665,700,690,
 700,685,705,660,700,680,695,690,700,670, 640,690,700,680,650,690,695,700,690,705,
 700,690,695,680,670,650,625,640,690,685]
PG_3180 = [6.9,7.9,6.5,7.6,7.95,7.3,8.0,7.5,7.95,7.4, 8.0,7.6,7.95,7.4,8.0,7.7,7.95,7.5,8.0,7.6,
 7.95,7.3,8.0,7.5,7.95,7.6,8.0,7.4,7.95,7.6, 7.9,7.2,7.85,7.5,7.95,7.35,7.9,7.6,7.95,7.55,
 7.9,7.7,7.95,7.6,7.9,7.75,7.95,7.65,7.9,7.8, 7.95,7.7,7.9,7.8,7.95,7.6,7.9,7.85,8.0,7.7,
 7.95,7.8,8.0,7.6,7.95,7.75,8.0,7.7,7.9,7.4, 7.95,7.7,7.9,7.6,7.8,7.5,7.2,5.55,7.3,7.6,
 7.4,7.85,7.6,7.9,7.85,7.95,7.8,8.0,7.85,7.9, 7.8,7.95,7.85,7.9,7.75,7.85,7.8,7.15,7.8,7.7,
 7.85,7.55,7.7,7.75,8.0,7.8,7.75,7.95,7.9,7.7]
PG_6690 = [123,106,118,104,112,122,108,116,120,112, 118,122,110,120,116,123,114,121,118,123,
 116,121,119,124,117,122,120,102,123,100, 80,120,72,95,118,110,121,115,123,118,
 124,120,124,121,125,122,124,120,125,122, 123,118,121,112,117,105,110,95,108,80,
 100,85,44,108,73,100,84,110,105,118, 112,120,108,118,104,116,120,122,118,123,
 121,124,122,120,124,122,109,120,116,121, 108,118,123,120,114,122,108,117,122,115,
 110,121,117,113,123,124,113,121,118,111]
PG_10229 = [72,76,75,73,76,75,76,74,76,75, 76,74,76,75,76,73,75,76,74,76,
 75,72,76,67,74,70,66,75,72,57, 75,73,76,74,76,75,76,73,76,74,
 76,73,75,70,76,72,74,76,68,75, 74,66,75,72,76,74,75,70,17,70,
 56,72,76,73,75,74,76,73,75,76, 75,74,76,75,73,76,74,75,76,74,
 75,76,74,76,75,76,75,71,75,73, 72,75,74,76,74,73,60,72,75,71,
 74,72,75,73,74,75,75,76,76,75]
PG_13564 = [20.3,21.4,20.6,21.5,20.2,21.3,20.9,21.6,20.5,21.4, 20.8,21.5,20.4,21.6,21.0,21.4,20.6,21.5,20.9,21.6,
 20.5,21.3,21.6,20.7,21.5,20.9,21.4,20.6,21.5,20.8, 19.5,21.2,18.5,21.4,20.8,21.6,21.0,21.4,20.7,21.5,
 21.0,21.6,20.6,21.4,21.1,21.6,20.8,21.4,21.2,21.5, 20.7,21.5,21.0,21.4,20.8,21.6,21.2,21.5,20.6,21.4,
 20.9,21.5,20.4,8.0,20.6,21.3,21.5,21.0,21.4,20.7, 21.5,20.9,21.4,21.1,21.6,20.8,21.5,21.2,21.4,21.0,
 21.4,20.8,21.5,21.1,21.3,20.6,21.4,21.2,20.9,21.5, 21.0,21.4,20.7,21.3,21.5,20.9,21.2,20.8,20.0,21.3,
 21.4,21.1,19.7,20.8,20.0,21.0,21.5,20.5,21.3,20.9]
PG_16673 = [14.1,16.8,15.5,17.1,16.2,15.8,17.2,16.5,17.0,16.3, 17.2,16.6,17.1,16.2,17.2,16.8,17.0,16.4,17.2,16.9,
 16.5,17.2,16.7,17.1,16.4,17.2,16.8,17.0,16.3,16.1, 16.6,17.0,16.5,17.2,16.8,17.1,16.6,17.2,16.9,17.1,
 16.7,17.2,16.4,17.0,16.8,17.2,16.5,17.1,16.9,17.2, 16.6,17.0,16.8,17.1,16.5,17.2,16.9,17.0,16.4,16.2,
 7.0,16.4,17.1,16.8,17.2,16.9,17.1,16.6,17.0,17.2, 16.8,17.1,16.7,17.0,17.2,16.9,17.1,16.8,17.2,16.9,
 17.1,16.8,17.0,16.9,17.2,16.7,17.0,16.9,17.1,16.8, 17.2,15.8,16.6,16.9,17.0,16.8,16.9,16.7,17.0,16.9,
 16.5,16.0,16.9,16.3,16.8,17.0,16.9,17.2,17.1,16.3]
PG_17234 = [21.5,22.6,22.0,22.7,21.8,22.6,22.2,22.7,21.9,22.6, 22.3,22.7,21.6,20.5,22.4,19.3,22.5,22.2,22.7,22.0,
 22.7,22.3,22.6,22.4,22.7,22.1,22.6,22.2,7.0,19.4, 22.4,22.7,22.2,22.6,22.5,22.7,22.3,22.6,22.7,22.5,
 22.6,22.7,22.5,22.7,22.6,22.7,22.5,22.7,22.6,22.7, 22.5,22.7,22.6,22.7,22.5,22.7,22.6,22.7,22.6,22.7,
 22.6,22.7,22.5,22.7,22.6,22.7,22.6,22.7,22.5,22.7, 22.6,22.7,22.6,22.7,22.5,22.7,22.6,22.7,22.6,22.7,
 22.6,22.7,22.5,22.7,22.6,22.4,22.7,22.5,22.7,22.4, 22.6,22.3,22.7,22.5,22.6,22.2,22.7,22.5,22.4,22.7,
 21.6,22.2,21.9,22.6,22.4,22.7,22.5,22.3,22.7,22.6]
PG_17262 = [7.5,6.75,7.8,7.0,7.85,7.4,7.8,7.5,7.85,7.6, 7.8,7.45,7.85,7.6,7.8,7.5,7.85,7.7,7.8,7.6,
 7.85,7.55,7.8,7.7,7.85,7.6,7.8,7.75,7.85,5.25, 7.3,7.8,7.6,7.85,7.7,7.8,7.75,7.85,7.7,7.8,
 7.82,7.86,7.78,7.85,7.8,7.86,7.79,7.85,7.82,7.86, 7.8,7.86,7.83,7.85,7.79,7.86,7.82,7.85,7.8,7.86,
 7.83,7.86,7.8,7.85,7.82,7.86,7.79,7.85,7.83,7.86, 7.81,7.86,7.83,7.85,7.8,7.86,7.82,7.85,7.84,7.86,
 7.85,7.83,7.86,7.8,7.6,7.82,7.7,7.85,7.8,7.86, 7.82,7.8,7.85,7.78,7.84,7.8,7.75,7.85,7.8,7.82,
 7.85,7.8,7.62,7.78,7.83,7.86,7.82,7.85,7.8,7.78]
PG_20753 = [145,128,143,132,146,135,144,126,145,138, 143,125,145,130,144,117,142,133,145,128,
 144,130,145,127,143,135,146,125,144,132, 17,130,145,121,143,134,145,128,144,136,
 145,125,143,138,146,124,144,133,145,130, 144,137,145,129,146,134,143,139,145,131,
 144,139,146,122,143,137,145,140,144,133, 145,138,143,141,146,136,144,140,145,139,
 143,145,140,146,138,144,142,145,139,146, 143,130,145,141,144,146,139,143,145,135,
 141,145,140,144,142,145,138,136,144,142]
PG_27113 = [21.5,18.0,20.5,17.5,21.0,13.5,19.0,20.8,16.0,21.0, 17.0,20.5,12.5,21.2,19.0,14.5,20.8,17.5,21.0,15.5,
 20.5,19.0,21.2,14.0,20.0,18.5,5.0,20.0,19.5,21.0, 18.0,21.2,20.0,21.5,16.0,21.0,19.5,21.8,20.5,22.0,
 20.0,22.2,19.5,21.8,20.8,22.0,19.8,21.5,20.5,22.1, 20.2,21.8,19.0,22.0,20.8,21.5,20.0,22.1,19.5,21.7,
 21.0,22.0,19.8,21.6,20.5,22.2,20.9,21.4,18.2,21.9, 20.4,22.0,21.0,21.7,19.6,22.1,20.8,21.5,20.2,21.9,
 21.2,19.5,21.8,20.3,22.0,21.0,19.2,22.3,20.5,21.6, 20.0,21.5,19.8,20.6,21.2,19.3,18.0,20.4,21.0,19.6,
 20.2,19.4,20.8,19.2,20.5,19.8,18.8,21.4,19.0,21.3]
PG_29377 = [54.0,52.5,54.8,53.0,54.6,52.0,54.9,53.5,54.5,52.8, 8.0,53.5,54.8,52.6,54.7,53.8,54.9,52.9,54.6,53.6,
 54.8,7.5,54.5,53.2,54.9,53.9,54.6,53.4,54.8,54.0, 54.9,53.9,54.7,54.2,55.0,53.8,54.8,54.3,54.9,54.0,
 54.7,54.2,55.0,53.9,54.8,54.4,54.9,54.1,55.0,54.3, 54.8,54.0,54.9,54.4,55.0,54.2,54.7,54.5,54.9,54.1,
 55.0,54.3,54.8,54.5,54.9,54.2,55.0,54.4,54.8,54.6, 54.9,54.3,55.0,54.5,54.8,54.2,54.9,54.6,55.0,54.4,
 54.8,54.3,54.9,54.5,55.0,54.4,54.7,54.9,54.3,54.8, 54.5,54.9,54.2,54.8,54.6,55.0,54.3,54.7,54.9,54.5,
 54.8,54.4,54.9,54.6,55.0,54.3,54.8,54.5,54.9,54.7]
PG_34843 = [25.0,23.5,25.3,22.0,24.8,25.5,23.0,25.2,24.0,25.4, 22.5,25.0,24.2,25.5,23.3,25.1,24.6,25.4,22.8,25.0,
 24.4,25.5,23.6,25.2,24.8,25.4,23.0,25.3,24.5,25.0, 4.2,25.2,23.8,25.5,24.1,25.0,23.4,25.3,24.7,25.4,
 23.9,25.1,24.5,25.4,22.9,25.2,24.3,25.5,24.0,25.1, 24.6,25.3,23.5,25.0,24.8,25.4,23.2,25.2,24.4,25.0,
 23.8,5.0,24.9,25.3,23.6,25.1,24.5,25.4,23.9,25.2, 24.2,25.3,23.7,25.0,24.6,25.4,23.4,25.1,24.8,25.3,
 24.0,25.2,23.3,24.8,25.1,22.8,24.6,25.3,23.9,24.7, 25.0,23.6,24.3,25.2,22.9,24.8,21.0,23.5,24.9,25.1,
 23.8,24.6,22.5,25.0,24.2,23.5,25.2,24.0,25.4,24.9]

NAMES = ["(2294) Andronikov", "(3180) Morgan", "(6690) Messick", "(10229) 1997 WR3",
         "(13564) Kodomomiraikan", "(16673) 1994 BF1", "(17234) 2000 EL11", "(17262) Winokur",
         "(20753) 2000 AW211", "(27113) 1998 VY54", "(29377) 1996 GV18", "(34843) 2001 SZ276"]
PERIODS_H = [3.1534, 2.4481, 3.0308, 3.2508, 2.9924, 3.1515, 6.6400, 6.4775, 6.1301, 7.1788, 8.6125, 3.0965]
LCS = [LC_2294, LC_3180, LC_6690, LC_10229, LC_13564, LC_16673, LC_17234, LC_17262, LC_20753, LC_27113, LC_29377, LC_34843]
FITS = [FIT_2294, FIT_3180, FIT_6690, FIT_10229, FIT_13564, FIT_16673, FIT_17234, FIT_17262, FIT_20753, FIT_27113, FIT_29377, FIT_34843]
PGS = [PG_2294, PG_3180, PG_6690, PG_10229, PG_13564, PG_16673, PG_17234, PG_17262, PG_20753, PG_27113, PG_29377, PG_34843]

# axis limits (bottom, top) and tick spacing for each panel
LC_YLIM = [(11.461, 10.647), (13.541, 12.923), (13.180, 12.722), (13.521, 13.007), (14.622, 13.810), (13.840, 13.299),
           (14.628, 13.163), (14.374, 13.422), (14.207, 12.324), (14.872, 13.784), (14.80, 13.659), (14.13, 13.529)]
LC_YTICK = [(10.8, 11.4, 0.2), (13.0, 13.5, 0.1), (12.8, 13.1, 0.1), (13.1, 13.5, 0.1), (14.0, 14.6, 0.2), (13.4, 13.8, 0.1),
            (13.2, 14.6, 0.2), (13.6, 14.2, 0.2), (12.5, 14.0, 0.25), (13.8, 14.8, 0.2), (13.8, 14.6, 0.2), (13.6, 14.1, 0.1)]
PG_YLIM = [(111.8, 741.7), (3.695, 8.256), (26.0, 130.3), (7.6, 79.4), (5.54, 22.59), (5.825, 17.875),
           (4.48, 23.76), (4.516, 8.114), (10.0, 154.5), (4.32, 23.6), (5.5, 57.4), (3.86, 26.7)]
PG_YTICK = [(150, 600, 150), (4.0, 8.0, 0.8), (40, 120, 20), (15, 75, 15), (6, 21, 3), (7.5, 17.5, 2.5),
            (8, 20, 4), (4.8, 7.8, 0.6), (25, 150, 25), (8, 20, 4), (10, 50, 10), (4, 24, 4)]
AW211_LABELS = {12.5: "12.5", 12.75: "12.8", 13.0: "13.0", 13.25: "13.2", 13.5: "13.5", 13.75: "13.8", 14.0: "14.0"}

# ---------------- layout helpers ----------------
ROW_H = 206
COLS = [(230, 36, 2), (236, 37, 8), (231, 36, 4), (285, 36, 58)]
TICK_PX = "9.5px"
LABEL_PX = "11.5px"
NOTE_PX = "11px"


def n_minor(step):
    mant = step / 10 ** np.floor(np.log10(step))
    return 5 if any(np.isclose(mant, m) for m in (1.0, 2.5, 5.0, 10.0)) else 4


def ticker(lo, hi, step):
    major = [round(v, 4) for v in np.arange(lo, hi + step / 2, step)]
    sub = step / n_minor(step)
    minor = [round(v, 5) for v in np.arange(lo - step, hi + step * 1.01, sub)]
    return FixedTicker(ticks=major, minor_ticks=minor)


def fmt_for(step):
    if float(step).is_integer():
        return "%d"
    return "%.1f"


def style_axis(ax, label=None):
    ax.major_tick_in = 4
    ax.major_tick_out = 0
    ax.minor_tick_in = 2
    ax.minor_tick_out = 0
    ax.major_tick_line_color = "black"
    ax.minor_tick_line_color = "black"
    ax.axis_line_color = "black"
    ax.major_label_text_font = SERIF
    ax.major_label_text_font_size = TICK_PX
    ax.major_label_text_color = "black"
    ax.major_label_standoff = 2
    if label is not None:
        ax.axis_label = label
        ax.axis_label_text_font = SERIF
        ax.axis_label_text_font_size = LABEL_PX
        ax.axis_label_text_font_style = "normal"
        ax.axis_label_text_color = "black"
        ax.axis_label_standoff = 0


def make_panel(col, xr, yr, xt, yt, xfmt, yfmt, xlabel, ylabel, yoverrides=None):
    w, bl, br = COLS[col]
    p = figure(width=w, height=ROW_H, x_range=xr, y_range=yr, output_backend="svg",
               toolbar_location=None, min_border_left=bl, min_border_right=br,
               min_border_top=10, min_border_bottom=35)
    p.grid.visible = False
    p.outline_line_color = "black"
    p.outline_line_width = 1
    p.xaxis.ticker = xt
    p.yaxis.ticker = yt
    p.xaxis.formatter = PrintfTickFormatter(format=xfmt)
    p.yaxis.formatter = PrintfTickFormatter(format=yfmt)
    style_axis(p.xaxis[0], xlabel)
    style_axis(p.yaxis[0], ylabel)
    if yoverrides:
        p.yaxis[0].major_label_overrides = yoverrides
    # tick marks mirrored on the top and right edges, without labels
    for side in ("above", "right"):
        mirror = LinearAxis(ticker=xt if side == "above" else yt,
                            formatter=CustomJSTickFormatter(code="return ''"))
        style_axis(mirror)
        mirror.major_label_standoff = 0
        p.add_layout(mirror, side)
    return p


def add_text(p, x, y, text, baseline, xoff, yoff):
    p.add_layout(Label(x=x, y=y, text=text, text_font=SERIF, text_font_size=NOTE_PX,
                       text_align="right", text_baseline=baseline, x_offset=xoff, y_offset=yoff,
                       text_color="black"))


phase_tick = ticker(0.0, 1.0, 0.2)
freq_tick = ticker(0, 50, 10)
FIT_PHASE = list(np.linspace(0.0, 1.0, 21))

rows = []
for r in range(6):
    row = []
    for k in range(2):
        i = 2 * r + k
        # ---- light curve ----
        pts = LCS[i]
        ph = [t[0] for t in pts]
        mag = [t[1] for t in pts]
        err = [t[2] * 0.01 for t in pts]
        lo, hi = LC_YLIM[i]
        t0, t1, ts = LC_YTICK[i]
        lc = make_panel(2 * k, Range1d(-0.05, 1.05), Range1d(lo, hi), phase_tick, ticker(t0, t1, ts),
                        "%.1f", "%.1f", "Phase", "Reduced Magnitude (I)",
                        AW211_LABELS if i == 8 else None)
        lc.segment(x0=ph, y0=[m - e for m, e in zip(mag, err)], x1=ph, y1=[m + e for m, e in zip(mag, err)],
                   line_color=BLUE, line_alpha=0.35, line_width=1.2)
        lc.scatter(ph, mag, size=4.5, fill_color=BLUE, line_color=BLUE, line_width=0.5)
        lc.line(FIT_PHASE, FITS[i], line_color="#4a4a4a", line_width=0.8)
        add_text(lc, 1.05, hi, "P=%.4fh" % PERIODS_H[i], "top", -12, -7)
        add_text(lc, 1.05, lo, NAMES[i], "bottom", -12, 6)
        row.append(lc)

        # ---- periodogram ----
        vals = PGS[i]
        n = min(len(FREQ), len(vals))
        plo, phi = PG_YLIM[i]
        q0, q1, qs = PG_YTICK[i]
        pg = make_panel(2 * k + 1, Range1d(-0.9, 51.1), Range1d(plo, phi), freq_tick, ticker(q0, q1, qs),
                        "%d", fmt_for(qs), "Frequency (rev/day)", "Normalized \u03c7\u00b2")
        pg.line(FREQ[:n], vals[:n], line_color="#3a6bd0", line_alpha=0.75, line_width=0.9)
        pg.add_layout(Span(location=24.0 / PERIODS_H[i], dimension="height", line_color="red",
                           line_dash="2 2", line_width=0.9, line_alpha=0.85))
        add_text(pg, 51.1, plo, NAMES[i], "bottom", -12, 6)
        row.append(pg)
    rows.append(row)

header = figure(width=982, height=46, x_range=Range1d(0, 982), y_range=Range1d(0, 46),
                toolbar_location=None, output_backend="svg", min_border=0,
                x_axis_type=None, y_axis_type=None)
header.outline_line_color = None
header.grid.visible = False
header.add_layout(Label(x=459, y=31, text="KMTNet Bulge Asteroids", text_align="center",
                        text_baseline="middle", text_font=SERIF, text_font_size="21px", text_color="black"))
header.add_layout(Label(x=975, y=31, text="21", text_align="right",
                        text_baseline="middle", text_font=SERIF, text_font_size="21px", text_color="black"))

grid = gridplot(rows, toolbar_location=None)
page = column(header, grid)

open("out.html", "w").write(file_html(page, INLINE))
